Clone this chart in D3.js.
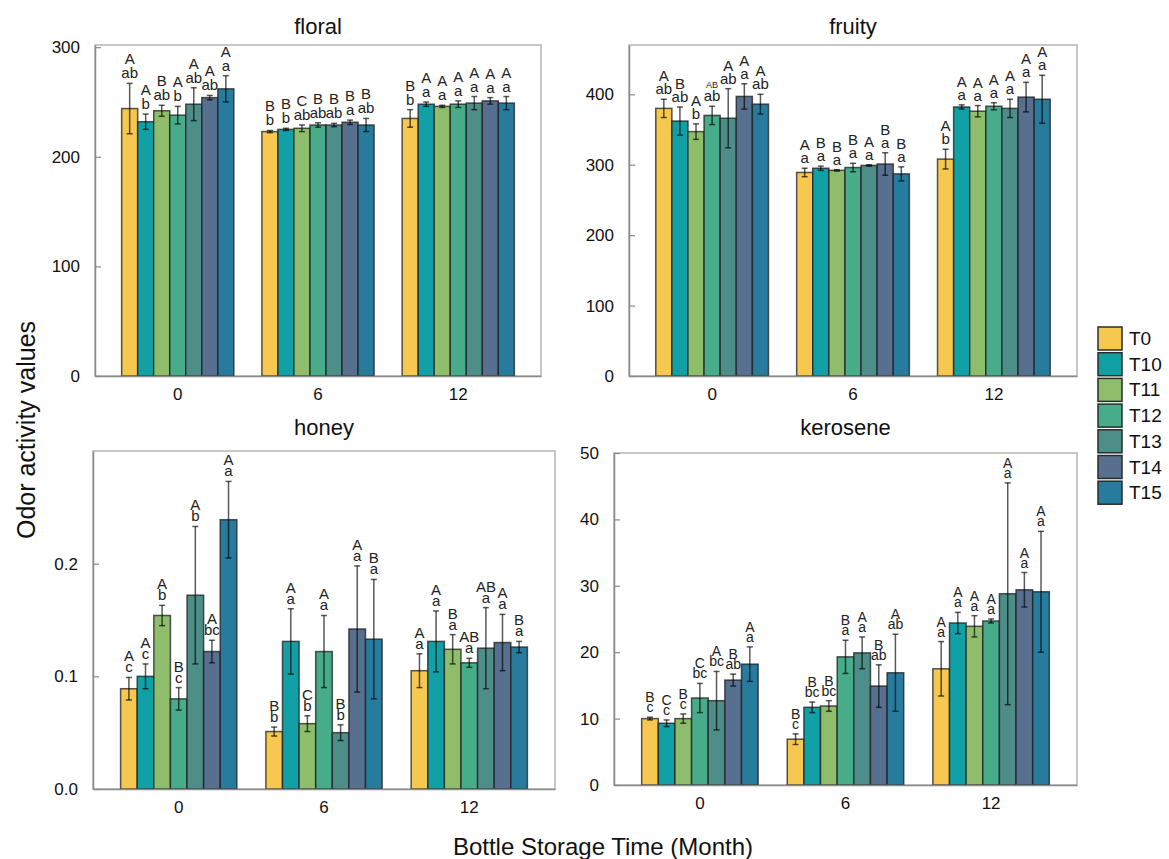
<!DOCTYPE html>
<html>
<head>
<meta charset="utf-8">
<script src="https://cdn.jsdelivr.net/npm/d3@7"></script>
<style>
  body { margin: 0; background: #fff; }
  svg { font-family: 'Liberation Sans', Arial, sans-serif; }
</style>
</head>
<body>
<div id="chart"></div>
<script>
const series = ['T0', 'T10', 'T11', 'T12', 'T13', 'T14', 'T15']
const months = ['0', '6', '12']
const seriesColors = ['#F7C850', '#10A0A6', '#8EBE6B', '#46AC8A', '#4E8E88', '#577090', '#277C9E']

// rows = months (0, 6, 12), columns = series
const floralMean = [[244, 232, 242, 238, 248, 254, 262], [223, 225, 226, 229, 229, 231.5, 229], [235, 248, 246, 248, 249, 251, 249]]
const floralErr = [[23, 7, 5, 8, 15, 2, 12], [1, 1, 3, 2, 1.5, 2, 6], [8, 2, 1, 3, 6, 3, 6]]
const floralUpper = [['A', 'A', 'B', 'A', 'A', 'A', 'A'], ['B', 'B', 'C', 'B', 'B', 'B', 'B'], ['B', 'A', 'A', 'A', 'A', 'A', 'A']]
const floralLower = [['ab', 'b', 'ab', 'b', 'ab', 'ab', 'a'], ['b', 'b', 'ab', 'ab', 'ab', 'a', 'ab'], ['b', 'a', 'a', 'a', 'a', 'a', 'a']]

const fruityMean = [[380, 362, 347, 370, 366, 397, 386], [289, 295, 292, 296, 299, 301, 287], [308, 382, 376, 383, 380, 396, 393]]
const fruityErr = [[13, 20, 11, 13, 42, 18, 14], [6, 3, 1, 6, 1, 16, 10], [14, 3, 8, 5, 13, 21, 34]]
const fruityUpper = [['A', 'B', 'A', 'AB', 'A', 'A', 'A'], ['A', 'B', 'B', 'B', 'A', 'B', 'B'], ['A', 'A', 'A', 'A', 'A', 'A', 'A']]
const fruityLower = [['ab', 'ab', 'b', 'ab', 'ab', 'a', 'ab'], ['a', 'a', 'a', 'a', 'a', 'a', 'a'], ['b', 'a', 'a', 'a', 'a', 'a', 'a']]

const honeyMean = [[0.089, 0.100, 0.154, 0.080, 0.172, 0.122, 0.239], [0.051, 0.131, 0.058, 0.122, 0.050, 0.142, 0.133], [0.105, 0.131, 0.124, 0.112, 0.125, 0.130, 0.126]]
const honeyErr = [[0.010, 0.011, 0.009, 0.010, 0.061, 0.010, 0.034], [0.004, 0.029, 0.007, 0.032, 0.007, 0.056, 0.053], [0.015, 0.027, 0.013, 0.004, 0.036, 0.025, 0.005]]
const honeyUpper = [['A', 'A', 'A', 'B', 'A', 'A', 'A'], ['B', 'A', 'C', 'A', 'B', 'A', 'B'], ['A', 'A', 'B', 'AB', 'AB', 'A', 'B']]
const honeyLower = [['c', 'c', 'b', 'c', 'b', 'bc', 'a'], ['b', 'a', 'b', 'a', 'b', 'a', 'a'], ['a', 'a', 'a', 'a', 'a', 'a', 'a']]

const keroseneMean = [[10.0, 9.3, 10.0, 13.1, 12.7, 15.8, 18.2], [6.9, 11.7, 11.9, 19.3, 19.9, 14.9, 16.9], [17.5, 24.4, 23.9, 24.7, 28.8, 29.4, 29.1]]
const keroseneErr = [[0.2, 0.5, 0.7, 2.2, 4.4, 0.9, 2.6], [0.8, 0.8, 0.8, 2.5, 2.4, 3.2, 5.8], [4.1, 1.6, 1.6, 0.3, 16.7, 2.6, 9.1]]
const keroseneUpper = [['B', 'C', 'B', 'C', 'A', 'B', 'A'], ['B', 'B', 'B', 'B', 'A', 'B', 'A'], ['A', 'A', 'A', 'A', 'A', 'A', 'A']]
const keroseneLower = [['c', 'c', 'c', 'bc', 'bc', 'ab', 'a'], ['c', 'bc', 'bc', 'a', 'a', 'ab', 'ab'], ['a', 'a', 'a', 'a', 'a', 'a', 'a']]

const floralTicks = [0, 100, 200, 300]
const fruityTicks = [0, 100, 200, 300, 400]
const honeyTicks = [0, 0.1, 0.2]
const keroseneTicks = [0, 10, 20, 30, 40, 50]

const panels = [
  { title: 'floral', mean: floralMean, err: floralErr, upper: floralUpper, lower: floralLower, ticks: floralTicks, max: 302, fmt: 'd', left: 95, right: 541, top: 45, bottom: 376, titleY: 34, gap: 14, fs: 15 },
  { title: 'fruity', mean: fruityMean, err: fruityErr, upper: fruityUpper, lower: fruityLower, ticks: fruityTicks, max: 470, fmt: 'd', left: 629, right: 1077, top: 45, bottom: 376, titleY: 34, gap: 13, fs: 15 },
  { title: 'honey', mean: honeyMean, err: honeyErr, upper: honeyUpper, lower: honeyLower, ticks: honeyTicks, max: 0.3, fmt: '.1f', left: 93, right: 555, top: 451, bottom: 789, titleY: 435, gap: 11, fs: 15 },
  { title: 'kerosene', mean: keroseneMean, err: keroseneErr, upper: keroseneUpper, lower: keroseneLower, ticks: keroseneTicks, max: 50, fmt: 'd', left: 614, right: 1077, top: 453, bottom: 785, titleY: 435, gap: 10, fs: 14 }
]

const width = 1169
const height = 859

const svg = d3.select('#chart')
  .append('svg')
  .attr('width', width)
  .attr('height', height)

const color = d3.scaleOrdinal().domain(series).range(seriesColors)

panels.forEach(p => {
  const g = svg.append('g')

  const x = d3.scaleBand()
    .domain(months)
    .range([p.left, p.right])
    .paddingInner(0.2)
    .paddingOuter(0.19)

  const xs = d3.scaleBand()
    .domain(series)
    .range([0, x.bandwidth()])

  const y = d3.scaleLinear()
    .domain([0, p.max])
    .range([p.bottom, p.top])

  // frame
  g.append('rect')
    .attr('x', p.left)
    .attr('y', p.top)
    .attr('width', p.right - p.left)
    .attr('height', p.bottom - p.top)
    .attr('fill', 'none')
    .attr('stroke', '#b5b5b5')
    .attr('stroke-width', 1.5)

  const rows = []
  months.forEach((m, i) => {
    series.forEach((s, j) => {
      rows.push({ month: m, series: s, v: p.mean[i][j], e: p.err[i][j], up: p.upper[i][j], lo: p.lower[i][j] })
    })
  })

  g.selectAll('.bar')
    .data(rows)
    .enter().append('rect')
    .attr('class', 'bar')
    .attr('x', d => x(d.month) + xs(d.series))
    .attr('y', d => y(d.v))
    .attr('width', xs.bandwidth())
    .attr('height', d => y(0) - y(d.v))
    .attr('fill', d => color(d.series))
    .attr('stroke', '#1e1e1e')
    .attr('stroke-opacity', 0.75)
    .attr('stroke-width', 1.5)

  const cx = d => x(d.month) + xs(d.series) + xs.bandwidth() / 2

  const eb = g.selectAll('.err')
    .data(rows)
    .enter().append('g')
    .attr('class', 'err')
    .attr('stroke', '#000')
    .attr('stroke-opacity', 0.65)
    .attr('stroke-width', 1.5)

  eb.append('line')
    .attr('x1', cx).attr('x2', cx)
    .attr('y1', d => y(d.v + d.e))
    .attr('y2', d => y(d.v - d.e))
  eb.append('line')
    .attr('x1', d => cx(d) - 3).attr('x2', d => cx(d) + 3)
    .attr('y1', d => y(d.v + d.e)).attr('y2', d => y(d.v + d.e))
  eb.append('line')
    .attr('x1', d => cx(d) - 3).attr('x2', d => cx(d) + 3)
    .attr('y1', d => y(d.v - d.e)).attr('y2', d => y(d.v - d.e))

  const lab = g.selectAll('.lab')
    .data(rows)
    .enter().append('g')
    .attr('class', 'lab')
    .attr('font-size', p.fs + 'px')
    .attr('fill', '#222')
    .attr('text-anchor', 'middle')

  lab.append('text')
    .attr('x', cx)
    .attr('y', d => y(d.v + d.e) - 5 - p.gap)
    .attr('font-size', d => d.up.length > 1 && p.title === 'fruity' ? '9px' : null)
    .text(d => d.up)
  lab.append('text')
    .attr('x', cx)
    .attr('y', d => y(d.v + d.e) - 5)
    .text(d => d.lo)

  // y axis
  const yAxis = g.append('g')
    .attr('transform', `translate(${p.left},0)`)
    .call(d3.axisLeft(y)
      .tickValues(p.ticks)
      .tickFormat(d3.format(p.fmt))
      .tickSizeInner(-6)
      .tickSizeOuter(0)
      .tickPadding(15))
  yAxis.select('.domain').attr('stroke', '#8a8a8a').attr('stroke-width', 1.5)
  yAxis.selectAll('.tick line').attr('stroke', '#8a8a8a').attr('stroke-width', 1.2)
  yAxis.selectAll('text')
    .attr('font-size', '17px')
    .attr('font-family', 'Liberation Sans, Arial, sans-serif')
    .attr('fill', '#111')

  // x axis
  const xAxis = g.append('g')
    .attr('transform', `translate(0,${p.bottom})`)
    .call(d3.axisBottom(x).tickSize(0).tickPadding(12))
  xAxis.select('.domain').attr('stroke', '#8a8a8a').attr('stroke-width', 1.5)
  xAxis.selectAll('text')
    .attr('font-size', '17px')
    .attr('font-family', 'Liberation Sans, Arial, sans-serif')
    .attr('fill', '#111')

  g.append('text')
    .attr('x', (p.left + p.right) / 2)
    .attr('y', p.titleY)
    .attr('text-anchor', 'middle')
    .attr('font-size', '22px')
    .attr('fill', '#111')
    .text(p.title)
})

svg.append('text')
  .attr('transform', 'translate(35,430) rotate(-90)')
  .attr('text-anchor', 'middle')
  .attr('font-size', '25px')
  .attr('fill', '#111')
  .text('Odor activity values')

svg.append('text')
  .attr('x', 603)
  .attr('y', 855)
  .attr('text-anchor', 'middle')
  .attr('font-size', '24px')
  .attr('fill', '#111')
  .text('Bottle Storage Time (Month)')

const legend = svg.append('g')
  .attr('transform', 'translate(1098,327)')

legend.selectAll('rect')
  .data(series)
  .enter().append('rect')
  .attr('x', 0)
  .attr('y', (d, i) => i * 25.7)
  .attr('width', 24)
  .attr('height', 23)
  .attr('fill', d => color(d))
  .attr('stroke', '#2a2a2a')
  .attr('stroke-width', 1.5)

legend.selectAll('text')
  .data(series)
  .enter().append('text')
  .attr('x', 31)
  .attr('y', (d, i) => i * 25.7 + 18)
  .attr('font-size', '19px')
  .attr('fill', '#111')
  .text(d => d)
</script>
</body>
</html>
